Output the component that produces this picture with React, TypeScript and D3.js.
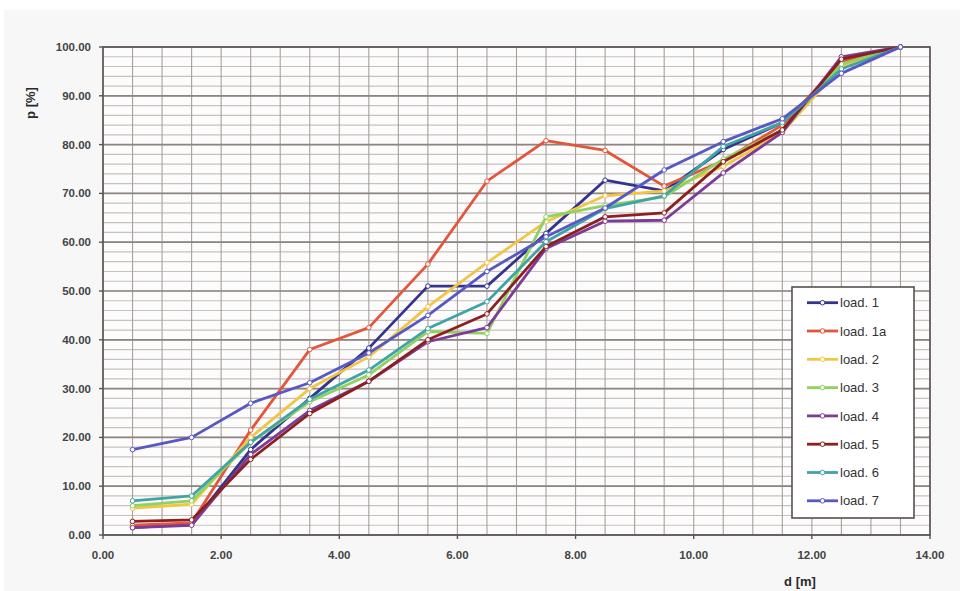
import React from "react";
import * as d3 from "d3";

const distances = [0.5, 1.5, 2.5, 3.5, 4.5, 5.5, 6.5, 7.5, 8.5, 9.5, 10.5, 11.5, 12.5, 13.5];

const load1 = [1.5, 2.2, 17.5, 28, 38.3, 51, 51, 61.8, 72.7, 70.5, 79, 84.5, 96, 100];
const load1a = [2, 2.5, 21.5, 38, 42.5, 55.5, 72.5, 80.8, 78.8, 71.5, 76.7, 84, 97, 100];
const load2 = [5.5, 6.3, 20, 30, 36.5, 46.8, 55.8, 64.2, 69.5, 70.5, 75.5, 82.5, 96, 100];
const load3 = [6, 7, 19, 27.3, 32.8, 41.7, 41.3, 65.2, 67.5, 69.3, 77, 83, 96.5, 100];
const load4 = [1.5, 2, 16.5, 25.5, 31.5, 39.6, 42.5, 58.7, 64.3, 64.5, 74.2, 82.5, 98, 100];
const load5 = [2.8, 3.1, 15.5, 24.9, 31.5, 40, 45.3, 59.1, 65.2, 66, 76.5, 83, 97.5, 100];
const load6 = [7, 8, 19, 27.8, 33.8, 42.3, 47.8, 60.1, 66.9, 69.5, 79.6, 84.5, 95.5, 100];
const load7 = [17.5, 20, 27, 31.2, 37.3, 45, 54, 61.1, 67, 74.8, 80.6, 85.3, 94.6, 100];

const seriesNames = ["load. 1", "load. 1a", "load. 2", "load. 3", "load. 4", "load. 5", "load. 6", "load. 7"];
const seriesValues = [load1, load1a, load2, load3, load4, load5, load6, load7];
const seriesColors = ["#34348f", "#e4563c", "#f3c545", "#8fd262", "#7a3c98", "#8c1f1f", "#40a3a6", "#5858c4"];

const xTicks = [0, 2, 4, 6, 8, 10, 12, 14];
const yTicks = [0, 10, 20, 30, 40, 50, 60, 70, 80, 90, 100];

export default function App() {
  const W = 960;
  const H = 591;
  const x = d3.scaleLinear().domain([0, 14]).range([103, 930]);
  const y = d3.scaleLinear().domain([0, 100]).range([535, 47]);
  const fmt = d3.format(".2f");
  const minorX = d3.range(0, 14.01, 0.5);
  const minorY = d3.range(0, 100.01, 2);
  const line = d3
    .line<number>()
    .x((_, i) => x(distances[i]))
    .y((v) => y(v));

  const legX = 792;
  const legY = 287;
  const legW = 122;
  const legH = 231;
  const legStep = 28.3;

  return (
    <svg
      width={W}
      height={H}
      style={{ position: "absolute", left: 0, top: 0, display: "block" }}
      fontFamily="Liberation Sans, Arial, sans-serif"
    >
      <rect x={0} y={0} width={W} height={H} fill="#ffffff" />
      <rect x={4} y={10} width={W - 4} height={H - 10} fill="#f7f7f7" />
      <rect x={x(0)} y={y(100)} width={x(14) - x(0)} height={y(0) - y(100)} fill="#fcfcfc" />

      {minorY.map((v) => (
        <line key={"my" + v} x1={x(0)} x2={x(14)} y1={y(v)} y2={y(v)} stroke="#c9bfbb" strokeWidth={1.2} />
      ))}
      {minorX.map((v) => (
        <line key={"mx" + v} x1={x(v)} x2={x(v)} y1={y(0)} y2={y(100)} stroke="#aa9f9a" strokeWidth={1.1} />
      ))}
      {yTicks.map((v) => (
        <line key={"gy" + v} x1={x(0)} x2={x(14)} y1={y(v)} y2={y(v)} stroke="#8e8480" strokeWidth={1.7} />
      ))}

      <rect
        x={x(0)}
        y={y(100)}
        width={x(14) - x(0)}
        height={y(0) - y(100)}
        fill="none"
        stroke="#5a5452"
        strokeWidth={1.6}
      />

      {yTicks.map((v) => (
        <g key={"ty" + v}>
          <line x1={x(0) - 4} x2={x(0)} y1={y(v)} y2={y(v)} stroke="#5a5452" strokeWidth={1.4} />
          <text
            x={91}
            y={y(v)}
            dy="0.35em"
            textAnchor="end"
            fontSize={11.5}
            fontWeight="bold"
            fill="#444444"
          >
            {fmt(v)}
          </text>
        </g>
      ))}
      {xTicks.map((v) => (
        <g key={"tx" + v}>
          <line x1={x(v)} x2={x(v)} y1={y(0)} y2={y(0) + 4} stroke="#5a5452" strokeWidth={1.4} />
          <text x={x(v)} y={559} textAnchor="middle" fontSize={11.5} fontWeight="bold" fill="#444444">
            {fmt(v)}
          </text>
        </g>
      ))}

      <text
        transform={`translate(35, 103) rotate(-90)`}
        textAnchor="middle"
        fontSize={13}
        fontWeight="bold"
        fill="#2a2a2a"
      >
        p [%]
      </text>
      <text x={800} y={586} textAnchor="middle" fontSize={13} fontWeight="bold" fill="#2a2a2a">
        d [m]
      </text>

      {seriesValues.map((vals, si) => (
        <g key={"s" + si}>
          <path d={line(vals) || ""} fill="none" stroke={seriesColors[si]} strokeWidth={2.8} strokeLinejoin="round" />
          {vals.map((v, i) => (
            <circle
              key={i}
              cx={x(distances[i])}
              cy={y(v)}
              r={2.3}
              fill="#ffffff"
              stroke={seriesColors[si]}
              strokeWidth={1}
            />
          ))}
        </g>
      ))}

      <rect x={legX} y={legY} width={legW} height={legH} fill="#ffffff" stroke="#555050" strokeWidth={1.6} />
      {seriesNames.map((name, i) => {
        const cy = legY + 15.7 + i * legStep;
        return (
          <g key={"l" + i}>
            <line x1={807} x2={838} y1={cy} y2={cy} stroke={seriesColors[i]} strokeWidth={2.8} />
            <circle cx={822.5} cy={cy} r={2.3} fill="#ffffff" stroke={seriesColors[i]} strokeWidth={1} />
            <text x={840} y={cy} dy="0.36em" fontSize={13} fill="#333333">
              {name}
            </text>
          </g>
        );
      })}
    </svg>
  );
}
